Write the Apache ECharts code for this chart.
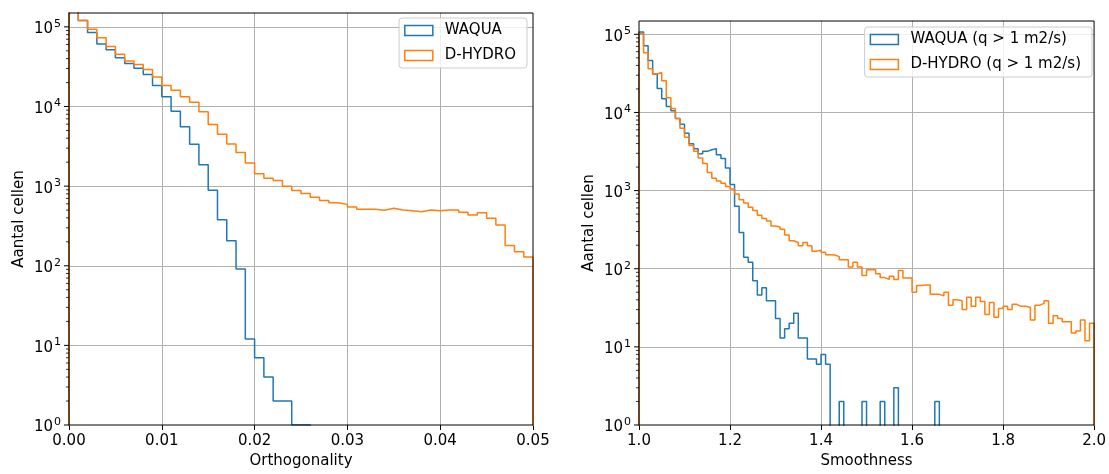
<!DOCTYPE html>
<html><head><meta charset="utf-8">
<script src="https://cdn.jsdelivr.net/npm/echarts@6/dist/echarts.min.js"></script>
<style>html,body{margin:0;padding:0;background:#fff}#c{width:1109px;height:474px}</style>
</head><body><div id="c"></div>
<script>
// ---- data ----
// Left panel: Orthogonality histogram, bins of 0.001 from 0.00 to 0.05
const orthoBinStart = 0.0;
const orthoBinWidth = 0.001;
const orthoWaqua = [200000, 120000, 84900, 60800, 51700, 41100, 34600, 30300, 25200, 18400,
  13300, 8730, 5570, 3360, 1860, 890, 377, 206, 91, 12,
  7, 4, 2, 2, 1, 1, 0, 0, 0, 0,
  0, 0, 0, 0, 0, 0, 0, 0, 0, 0,
  0, 0, 0, 0, 0, 0, 0, 0, 0, 0];
const orthoDHydro = [200000, 120000, 93500, 72900, 56900, 45200, 37300, 33600, 29100, 23400,
  18400, 15950, 13300, 11300, 8570, 5960, 4470, 3390, 2640, 1950,
  1435, 1260, 1180, 1000, 880, 810, 725, 660, 620, 590,
  545, 511, 511, 497, 526, 501, 492, 478, 501, 492,
  501, 501, 469, 434, 464, 395, 326, 179, 150, 129];

// Right panel: Smoothness histogram, bins of 0.01 from 1.0 to 2.0
const smoothBinStart = 1.0;
const smoothBinWidth = 0.01;
const smoothWaqua = [107000, 71300, 46100, 31000, 20200, 15000, 11900, 10500, 8380, 7040,
  5410, 3970, 3430, 2970, 3180, 3330, 3430, 2880, 2570, 1950,
  1200, 630, 290, 140, 121, 70, 46, 57, 39, 39,
  23, 13, 17, 20, 27, 13, 13, 7, 7, 6,
  8, 6, 0, 0, 2, 0, 0, 0, 0, 2,
  0, 0, 0, 2, 0, 0, 3, 0, 0, 0,
  0, 0, 0, 0, 0, 2, 0, 0, 0, 0,
  0, 0, 0, 0, 0, 0, 0, 0, 0, 0,
  0, 0, 0, 0, 0, 0, 0, 0, 0, 0,
  0, 0, 0, 0, 0, 0, 0, 0, 0, 0];
const smoothDHydro = [102000, 58200, 36200, 31000, 32500, 25500, 15400, 11200, 8380, 6260,
  4820, 3780, 3180, 2620, 2220, 1710, 1440, 1330, 1240, 1130,
  1050, 902, 764, 693, 611, 555, 484, 440, 407, 352,
  342, 319, 271, 228, 217, 197, 217, 197, 167, 173,
  162, 151, 150, 143, 130, 130, 105, 121, 105, 82,
  97, 97, 86, 77, 73, 80, 73, 95, 76, 76,
  50, 61, 62, 62, 47, 47, 45, 50, 34, 40,
  39, 30, 43, 33, 43, 38, 26, 37, 24, 31,
  33, 30, 35, 33, 33, 32, 22, 34, 36, 39,
  20, 25, 23, 21, 21, 15, 16, 22, 12, 20];

// tick labels
const orthoTicks = ['0.00', '0.01', '0.02', '0.03', '0.04', '0.05'];
const smoothTicks = ['1.0', '1.2', '1.4', '1.6', '1.8', '2.0'];
const yMajorTicks = [1, 10, 100, 1000, 10000, 100000];
const yTickExponents = ['0', '1', '2', '3', '4', '5'];
const yMinorTicks = [];
for (let n = 0; n < 5; n++) for (let m = 2; m <= 9; m++) yMinorTicks.push(m * Math.pow(10, n));

// ---- helpers ----
const BLUE = '#1f77b4', ORANGE = '#ff7f0e';
const FONT = 'DejaVu Sans';
const FS = 15;
const FLOOR = 0.1; // zero-count bins fall below the log axis and are clipped

function stepData(start, width, counts) {
  const pts = [[start, FLOOR]];
  counts.forEach((c, i) => pts.push([start + i * width, c > 0 ? c : FLOOR]));
  const end = start + counts.length * width;
  const last = counts[counts.length - 1];
  pts.push([end, last > 0 ? last : FLOOR]);
  pts.push([end, FLOOR]);
  return pts;
}

function yLabel(v) {
  for (let i = 0; i < yMajorTicks.length; i++) {
    const k = yMajorTicks[i];
    if (Math.abs(v - k) / k < 1e-6) return '{b|10}{s|' + yTickExponents[i] + '}';
  }
  return '';
}

function tickSeries(gi, xmin) {
  const data = yMajorTicks.map(v => [xmin, v, 5]).concat(yMinorTicks.map(v => [xmin, v, 3]));
  return {
    type: 'custom', xAxisIndex: gi, yAxisIndex: gi, silent: true, data: data, z: 4,
    encode: {x: 0, y: 1},
    renderItem: function (params, api) {
      const p = api.coord([api.value(0), api.value(1)]);
      const len = api.value(2);
      return {type: 'line', shape: {x1: p[0] - len, y1: p[1], x2: p[0], y2: p[1]},
        style: {stroke: '#000', lineWidth: len > 4 ? 1 : 0.8}};
    }
  };
}

function xAxis(gi, min, max, interval, labels, name) {
  return {
    gridIndex: gi, type: 'value', min: min, max: max, interval: interval,
    axisLine: {show: false},
    axisTick: {show: true, inside: false, length: 5, lineStyle: {color: '#000', width: 1}},
    axisLabel: {color: '#000', fontSize: FS, fontFamily: FONT, margin: 9,
      formatter: v => labels[Math.round((v - min) / interval)]},
    splitLine: {show: true, showMinLine: false, showMaxLine: false, lineStyle: {color: '#b0b0b0', width: 1}},
    name: name, nameLocation: 'middle', nameGap: 29,
    nameTextStyle: {color: '#000', fontSize: FS, fontFamily: FONT}
  };
}

function yAxis(gi, max, gap) {
  return {
    gridIndex: gi, type: 'log', logBase: 10, min: 1, max: max,
    axisLine: {show: false}, axisTick: {show: false},
    axisLabel: {color: '#000', fontFamily: FONT, margin: 8, formatter: yLabel,
      rich: {
        b: {fontSize: FS, fontFamily: FONT, color: '#000', lineHeight: 17, padding: [5, 0, 0, 0]},
        s: {fontSize: 11, fontFamily: FONT, color: '#000', lineHeight: 12, verticalAlign: 'top', padding: [0, 0, 0, 1]}
      }},
    splitLine: {show: true, showMinLine: false, showMaxLine: false, lineStyle: {color: '#b0b0b0', width: 1}},
    name: 'Aantal cellen', nameLocation: 'middle', nameGap: gap, nameRotate: 90,
    nameTextStyle: {color: '#000', fontSize: FS, fontFamily: FONT}
  };
}

function legendItem(name, color) {
  return {name: name, icon: 'rect', itemStyle: {color: '#ffffff', borderColor: color, borderWidth: 1.5}};
}

function legend(names, right, top) {
  return {
    orient: 'vertical', right: right, top: top,
    data: [legendItem(names[0], BLUE), legendItem(names[1], ORANGE)],
    itemWidth: 28, itemHeight: 10, itemGap: 8,
    padding: [4, 11, 4, 5],
    backgroundColor: 'rgba(255,255,255,0.8)', borderColor: '#cccccc', borderWidth: 1, borderRadius: 3,
    textStyle: {color: '#000', fontSize: FS, fontFamily: FONT, lineHeight: 17, padding: [0, 0, 0, 7]},
    selectedMode: false
  };
}

function histSeries(name, gi, start, width, counts, color) {
  return {
    type: 'line', name: name, xAxisIndex: gi, yAxisIndex: gi, step: 'end',
    data: stepData(start, width, counts), symbol: 'none', showSymbol: false, clip: true,
    lineStyle: {color: color, width: 1.5}, itemStyle: {color: color}, z: 3
  };
}

const chart = echarts.init(document.getElementById('c'), null, {renderer: 'canvas'});
chart.setOption({
  animation: false,
  backgroundColor: '#ffffff',
  grid: [
    {left: 69, top: 13, width: 464, height: 415, show: true, z: 10, borderColor: '#000', borderWidth: 1, backgroundColor: 'rgba(0,0,0,0)'},
    {left: 639, top: 21, width: 459, height: 409, show: true, z: 10, borderColor: '#000', borderWidth: 1, backgroundColor: 'rgba(0,0,0,0)'}
  ],
  xAxis: [
    xAxis(0, 0, 0.05, 0.01, orthoTicks, 'Orthogonality'),
    xAxis(1, 1, 2, 0.2, smoothTicks, 'Smoothness')
  ],
  yAxis: [
    yAxis(0, 149400, 42),
    yAxis(1, 148100, 42)
  ],
  legend: [
    legend(['WAQUA', 'D-HYDRO'], 1109 - 527, 18),
    legend(['WAQUA (q > 1 m2/s)', 'D-HYDRO (q > 1 m2/s)'], 1109 - 1092, 27)
  ],
  series: [
    histSeries('WAQUA', 0, orthoBinStart, orthoBinWidth, orthoWaqua, BLUE),
    histSeries('D-HYDRO', 0, orthoBinStart, orthoBinWidth, orthoDHydro, ORANGE),
    histSeries('WAQUA (q > 1 m2/s)', 1, smoothBinStart, smoothBinWidth, smoothWaqua, BLUE),
    histSeries('D-HYDRO (q > 1 m2/s)', 1, smoothBinStart, smoothBinWidth, smoothDHydro, ORANGE),
    tickSeries(0, 0),
    tickSeries(1, 1)
  ]
});
</script></body></html>
